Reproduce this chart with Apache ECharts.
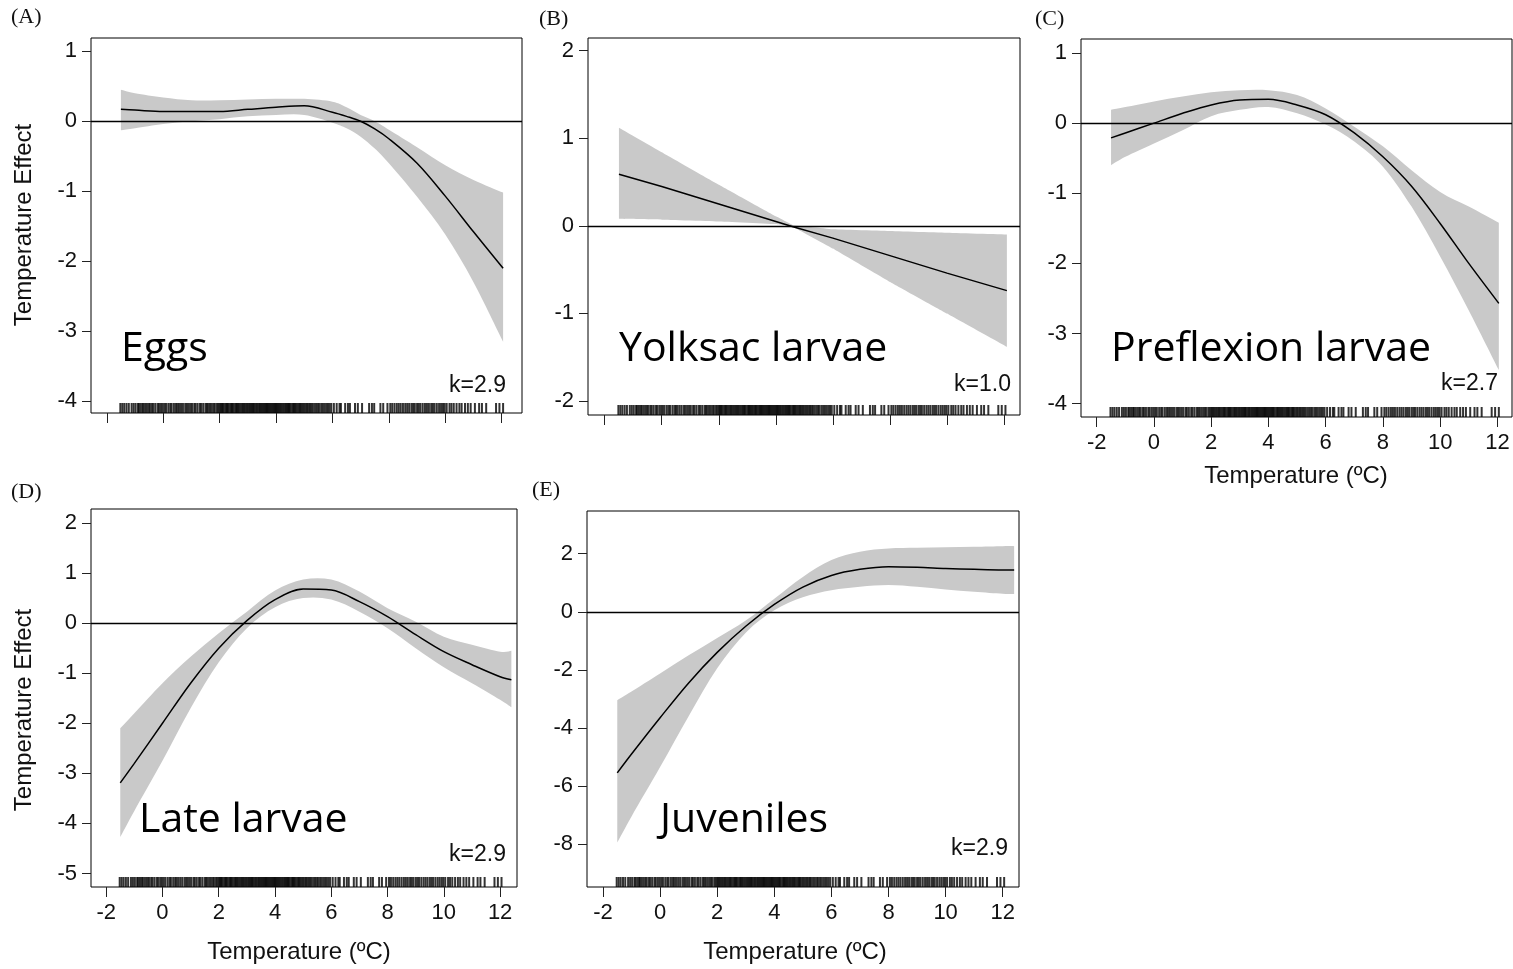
<!DOCTYPE html>
<html><head><meta charset="utf-8">
<script src="https://cdn.jsdelivr.net/npm/echarts@6/dist/echarts.min.js"></script>
<style>html,body{margin:0;padding:0;background:#fff}#c{width:1513px;height:969px}</style>
</head><body><div id="c"></div>
<script>
// ---- data ----
const tempA = [-1.5,-1,0,1,2,3,4,5,6,6.5,7,7.5,8,9,10,11,12.05];
const fitA  = [0.17,0.16,0.14,0.14,0.14,0.17,0.2,0.22,0.13,0.07,0.0,-0.11,-0.25,-0.6,-1.07,-1.58,-2.1];
const loA   = [-0.13,-0.1,-0.04,0.0,0.03,0.07,0.09,0.09,-0.02,-0.1,-0.22,-0.39,-0.6,-1.08,-1.62,-2.3,-3.15];
const hiA   = [0.45,0.4,0.34,0.3,0.3,0.31,0.32,0.32,0.28,0.2,0.09,0.0,-0.12,-0.37,-0.63,-0.84,-1.02];

const tempB = [-1.5,0,2,4,4.6,6,8,10,12.1];
const fitB  = [0.59,0.45,0.25,0.05,-0.01,-0.14,-0.34,-0.54,-0.74];
const loB   = [0.08,0.07,0.05,0.02,-0.01,-0.26,-0.64,-1.0,-1.38];
const hiB   = [1.12,0.84,0.47,0.11,0.01,-0.04,-0.06,-0.08,-0.1];

const tempC = [-1.5,-1,0,1,2,3,4,5,6,7,8,9,10,11,12.05];
const fitC  = [-0.21,-0.14,0.0,0.14,0.26,0.33,0.34,0.26,0.12,-0.14,-0.48,-0.9,-1.43,-2.0,-2.57];
const loC   = [-0.6,-0.48,-0.29,-0.1,0.1,0.19,0.23,0.14,-0.02,-0.26,-0.62,-1.19,-1.9,-2.67,-3.52];
const hiC   = [0.19,0.23,0.31,0.38,0.44,0.47,0.47,0.4,0.21,-0.05,-0.33,-0.67,-0.98,-1.19,-1.42];

const tempD = [-1.5,-1,0,1,2,3,4,5,6,7,8,9,10,11,12,12.4];
const fitD  = [-3.19,-2.8,-2.0,-1.2,-0.5,0.05,0.47,0.68,0.66,0.43,0.13,-0.23,-0.57,-0.83,-1.07,-1.13];
const loD   = [-4.27,-3.75,-2.75,-1.7,-0.78,-0.1,0.32,0.5,0.47,0.23,-0.1,-0.5,-0.88,-1.2,-1.53,-1.68];
const hiD   = [-2.1,-1.8,-1.2,-0.67,-0.2,0.23,0.65,0.87,0.87,0.63,0.3,0.03,-0.27,-0.43,-0.57,-0.55];

const tempE = [-1.5,-1,0,1,2,3,4,5,6,7,8,9,10,11,12,12.4];
const fitE  = [-5.55,-4.9,-3.65,-2.45,-1.4,-0.5,0.25,0.85,1.25,1.46,1.55,1.53,1.49,1.46,1.44,1.44];
const loE   = [-7.95,-7.05,-5.35,-3.6,-1.95,-0.72,0.05,0.5,0.74,0.86,0.92,0.86,0.77,0.69,0.62,0.61];
const hiE   = [-3.05,-2.75,-2.13,-1.5,-0.9,-0.3,0.45,1.2,1.78,2.07,2.18,2.2,2.22,2.24,2.26,2.26];

// observed temperatures (rug)
const rugTemps = [-1.52,-1.45,-1.38,-1.3,-1.22,-1.12,-1.05,-0.98,-0.9,-0.86,-0.8,-0.74,-0.7,-0.64,-0.58,-0.52,-0.47,-0.4,-0.35,-0.28,-0.2,-0.15,-0.08,-0.02,
 0.04,0.1,0.18,0.25,0.3,0.38,0.45,0.5,0.56,0.63,0.7,0.78,0.84,0.9,0.96,1.02,1.1,1.15,1.22,1.3,1.35,1.42,1.5,1.55,1.6,1.66,1.72,1.78,1.83,1.9,1.95,
 2.0,2.04,2.08,2.12,2.17,2.22,2.26,2.3,2.35,2.4,2.44,2.48,2.53,2.58,2.62,2.66,2.7,2.75,2.8,2.84,2.88,2.92,2.97,3.02,3.06,3.1,3.14,3.18,3.22,3.27,3.31,3.35,3.4,3.44,3.48,3.52,3.56,3.6,3.64,3.68,3.72,3.76,3.8,3.84,3.88,3.92,3.96,
 4.0,4.04,4.08,4.12,4.16,4.2,4.25,4.3,4.34,4.38,4.42,4.46,4.5,4.55,4.6,4.64,4.68,4.72,4.77,4.82,4.86,4.9,4.95,5.0,5.05,5.1,5.15,5.2,5.25,5.3,5.36,5.42,5.48,5.53,5.6,5.66,5.72,5.78,5.84,5.9,5.96,
 6.05,6.15,6.25,6.3,6.45,6.55,6.62,6.8,6.9,7.05,7.3,7.4,7.48,7.7,7.8,7.95,
 8.05,8.12,8.2,8.28,8.35,8.42,8.5,8.58,8.65,8.72,8.8,8.86,8.92,9.0,9.06,9.12,9.2,9.28,9.35,9.42,9.5,9.56,9.62,9.7,9.78,9.85,9.92,9.98,
 10.05,10.15,10.22,10.3,10.4,10.5,10.58,10.7,10.8,10.9,11.05,11.2,11.3,11.45,11.8,11.92,12.05];

const xTicks  = [-2,0,2,4,6,8,10,12];
const yTicksA = [-4,-3,-2,-1,0,1];
const yTicksB = [-2,-1,0,1,2];
const yTicksC = [-4,-3,-2,-1,0,1];
const yTicksD = [-5,-4,-3,-2,-1,0,1,2];
const yTicksE = [-8,-6,-4,-2,0,2];

const panelTags   = ['(A)','(B)','(C)','(D)','(E)'];
const stageLabels = ['Eggs','Yolksac larvae','Preflexion larvae','Late larvae','Juveniles'];
const kLabels     = ['k=2.9','k=1.0','k=2.7','k=2.9','k=2.9'];
const yTitle = 'Temperature Effect';
const xTitle = 'Temperature (ºC)';

// ---- layout ----
const panels = [
  {t:tempA,f:fitA,lo:loA,hi:hiA,yt:yTicksA,g:{left:91,top:38,width:431,height:375},xr:[-2.56,12.72],yr:[-4.17,1.19],xl:false,sm:true},
  {t:tempB,f:fitB,lo:loB,hi:hiB,yt:yTicksB,g:{left:588,top:38,width:432,height:377},xr:[-2.585,12.56],yr:[-2.16,2.145],xl:false,sm:false},
  {t:tempC,f:fitC,lo:loC,hi:hiC,yt:yTicksC,g:{left:1081,top:39,width:431,height:378},xr:[-2.55,12.51],yr:[-4.19,1.2],xl:true,sm:true},
  {t:tempD,f:fitD,lo:loD,hi:hiD,yt:yTicksD,g:{left:91,top:509,width:426,height:378},xr:[-2.54,12.6],yr:[-5.27,2.28],xl:true,sm:true},
  {t:tempE,f:fitE,lo:loE,hi:hiE,yt:yTicksE,g:{left:587,top:511,width:432,height:376},xr:[-2.56,12.57],yr:[-9.48,3.47],xl:true,sm:true}
];
const tagPos   = [[11,17],[539,19],[1035,19],[11,492],[532,490]];
const stagePos = [[121,349],[619,349],[1111,349],[139,820],[660,820]];
const kPos     = [[506,386],[1011,385],[1498,384],[506,855],[1008,849]];

// Catmull-Rom style path through pixel points (k=0 gives straight segments)
function curveSeg(pts, k, start) {
  let d = start ? 'M' + pts[0][0] + ',' + pts[0][1] : 'L' + pts[0][0] + ',' + pts[0][1];
  for (let i = 0; i < pts.length - 1; i++) {
    const p0 = pts[Math.max(i - 1, 0)], p1 = pts[i], p2 = pts[i + 1], p3 = pts[Math.min(i + 2, pts.length - 1)];
    const c1 = [p1[0] + (p2[0] - p0[0]) * k, p1[1] + (p2[1] - p0[1]) * k];
    const c2 = [p2[0] - (p3[0] - p1[0]) * k, p2[1] - (p3[1] - p1[1]) * k];
    d += 'C' + c1[0] + ',' + c1[1] + ',' + c2[0] + ',' + c2[1] + ',' + p2[0] + ',' + p2[1];
  }
  return d;
}

const tickFont = {fontSize:22,color:'#111',fontFamily:'Liberation Sans, Arial, sans-serif'};
const grids=[],xAxes=[],yAxes=[],series=[],graphic=[];
panels.forEach((p,i)=>{
  grids.push(Object.assign({show:true,borderColor:'#000',borderWidth:1,backgroundColor:'transparent'},p.g));
  xAxes.push({gridIndex:i,type:'value',min:p.xr[0],max:p.xr[1],
    axisLine:{show:false,onZero:false},splitLine:{show:false},
    axisTick:{show:true,length:10,customValues:xTicks,lineStyle:{color:'#222',width:1}},
    axisLabel:Object.assign({show:p.xl,customValues:xTicks,margin:15},tickFont)});
  yAxes.push({gridIndex:i,type:'value',min:p.yr[0],max:p.yr[1],
    axisLine:{show:false,onZero:false},splitLine:{show:false},
    axisTick:{show:true,length:9,customValues:p.yt,lineStyle:{color:'#222',width:1}},
    axisLabel:Object.assign({customValues:p.yt,margin:14},tickFont)});
  const k = p.sm ? 1/6 : 0;
  // confidence band (custom polygon through the axis scales)
  series.push({type:'custom',xAxisIndex:i,yAxisIndex:i,silent:true,z:1,
    data:p.t.map((x,j)=>[x,p.lo[j],p.hi[j]]),
    encode:{x:0,y:[1,2]},
    renderItem:function(params,api){
      if (params.dataIndexInside !== 0) return null;
      const n = params.dataInsideLength, up = [], dn = [];
      for (let j = 0; j < n; j++) {
        up.push(api.coord([api.value(0,j), api.value(2,j)]));
        dn.push(api.coord([api.value(0,j), api.value(1,j)]));
      }
      dn.reverse();
      const d = curveSeg(up,k,true) + curveSeg(dn,k,false) + 'Z';
      return {type:'path',shape:{pathData:d},style:{fill:'#c9c9c9',stroke:null}};
    }});
  series.push({type:'line',xAxisIndex:i,yAxisIndex:i,data:p.t.map((x,j)=>[x,p.f[j]]),
    symbol:'none',smooth:p.sm?0.33:false,lineStyle:{color:'#000',width:1.5},silent:true,z:3,
    markLine:{silent:true,symbol:['none','none'],label:{show:false},animation:false,
      lineStyle:{color:'#000',width:1.3,type:'solid'},data:[{yAxis:0}]}});
  series.push({type:'scatter',xAxisIndex:i,yAxisIndex:i,data:rugTemps.map(v=>[v,p.yr[0]]),
    symbol:'rect',symbolSize:[2,10],symbolOffset:[0,-5],itemStyle:{color:'#000'},clip:false,silent:true,z:4});

  graphic.push({type:'text',x:tagPos[i][0],y:tagPos[i][1],
    style:{text:panelTags[i],fontSize:22,fontFamily:'Liberation Serif, Times New Roman, serif',fill:'#111',align:'left',verticalAlign:'middle'}});
  graphic.push({type:'text',x:stagePos[i][0],y:stagePos[i][1],
    style:{text:stageLabels[i],fontSize:41,fontFamily:'Open Sans, sans-serif',fill:'#000',align:'left',verticalAlign:'middle'}});
  graphic.push({type:'text',x:kPos[i][0],y:kPos[i][1],
    style:{text:kLabels[i],fontSize:23,fontFamily:'Liberation Sans, Arial, sans-serif',fill:'#111',align:'right',verticalAlign:'middle'}});
});
const titleFont = 'Liberation Sans, Arial, sans-serif';
[[24,225],[24,710]].forEach(c=>graphic.push({type:'text',x:c[0],y:c[1],rotation:Math.PI/2,
  style:{text:yTitle,fontSize:24,fontFamily:titleFont,fill:'#111',align:'center',verticalAlign:'middle'}}));
[[1296,476],[299,952],[795,952]].forEach(c=>graphic.push({type:'text',x:c[0],y:c[1],
  style:{text:xTitle,fontSize:24,fontFamily:titleFont,fill:'#111',align:'center',verticalAlign:'middle'}}));

const chart = echarts.init(document.getElementById('c'),null,{renderer:'canvas'});
chart.setOption({backgroundColor:'#fff',animation:false,grid:grids,xAxis:xAxes,yAxis:yAxes,series:series,graphic:graphic});
</script></body></html>
